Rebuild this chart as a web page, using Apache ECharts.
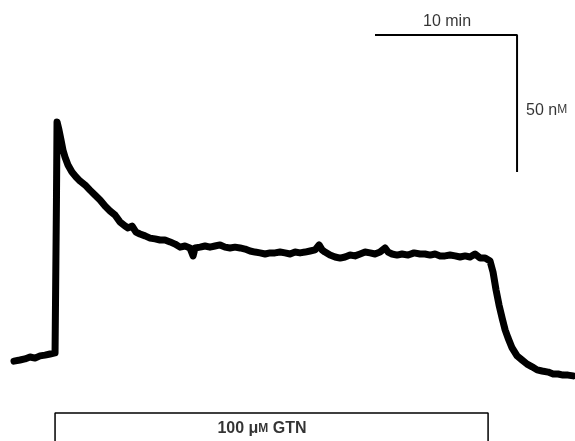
<!DOCTYPE html>
<html>
<head>
<meta charset="utf-8">
<script src="https://cdn.jsdelivr.net/npm/echarts@6/dist/echarts.min.js"></script>
<style>
  html, body { margin: 0; padding: 0; background: #fff; }
  #chart { width: 575px; height: 441px; }
</style>
</head>
<body>
<div id="chart"></div>
<script>
// NO trace: time in min, concentration in nM above baseline
const timeMin = [0, 0.42, 0.77, 1.13, 1.48, 1.83, 2.18, 2.54, 2.89, 2.99, 3.03, 3.17, 3.31, 3.45, 3.59, 3.80,
  4.08, 4.37, 4.65, 5.00, 5.35, 5.70, 6.06, 6.41, 6.76, 7.11, 7.46, 7.82, 8.03, 8.31, 8.59, 8.87, 9.23, 9.58,
  9.93, 10.28, 10.63, 10.99, 11.34, 11.69, 12.04, 12.39, 12.61, 12.75, 13.10, 13.45, 13.80, 14.15, 14.51, 14.86,
  15.21, 15.56, 15.92, 16.27, 16.62, 16.97, 17.32, 17.68, 18.03, 18.38, 18.73, 19.08, 19.44, 19.79, 20.14, 20.49,
  20.85, 21.20, 21.48, 21.69, 21.90, 22.25, 22.61, 22.96, 23.31, 23.66, 24.01, 24.37, 24.72, 25.07, 25.42, 25.77,
  26.13, 26.34, 26.62, 26.97, 27.32, 27.75, 28.17, 28.59, 28.94, 29.30, 29.65, 30.00, 30.35, 30.70, 31.06, 31.41,
  31.76, 32.11, 32.46, 32.82, 33.17, 33.52, 33.73, 33.94, 34.15, 34.37, 34.58, 34.79, 35.07, 35.42, 35.77, 36.13,
  36.48, 36.83, 37.18, 37.61, 37.96, 38.31, 38.66, 39.01, 39.37]
const noConc = [-1.5, -1.1, -0.7, 0, -0.4, 0.4, 0.7, 1.1, 1.5, 57.3, 85.8, 82.8, 79.2, 75.5, 73.0, 70.1,
  67.5, 65.7, 64.2, 62.8, 60.9, 59.1, 57.3, 55.1, 53.3, 51.8, 49.3, 47.8, 47.1, 47.8, 45.6, 44.9, 44.2, 43.4,
  43.1, 42.7, 42.7, 42.0, 41.2, 40.1, 40.5, 39.8, 36.9, 39.8, 40.1, 40.5, 40.1, 40.5, 40.9, 40.1,
  39.8, 40.1, 39.8, 39.4, 38.7, 38.3, 38.0, 37.6, 38.0, 38.0, 38.3, 38.0, 37.6, 38.3, 38.0, 38.3,
  38.7, 39.1, 40.9, 39.1, 38.3, 37.2, 36.5, 36.1, 36.5, 37.2, 36.9, 37.6, 38.3, 38.0, 37.6, 38.3,
  39.8, 38.3, 37.6, 37.2, 37.6, 37.2, 38.0, 37.6, 37.6, 37.2, 37.6, 36.9, 36.9, 37.2, 36.9, 36.5,
  36.9, 36.5, 37.6, 36.1, 36.1, 35.0, 31.0, 24.5, 19.0, 14.2, 9.9, 6.9, 3.3, 0.4, -1.1, -2.6,
  -3.6, -4.7, -5.1, -5.5, -6.2, -6.2, -6.6, -6.6, -6.9]

// scale bar: 10 min x 50 nM
const scaleTime = [25.42, 35.42, 35.42]
const scaleConc = [117.5, 117.5, 67.5]

// GTN application bar
const gtnTime = [2.89, 2.89, 33.38, 33.38]
const gtnConc = [-32, -20.4, -20.4, -32]

const FONT = 'Liberation Sans, Arial, sans-serif'

const chart = echarts.init(document.getElementById('chart'))

const zip = (xs, ys) => xs.map((x, i) => [x, ys[i]])

chart.setOption({
  backgroundColor: '#fff',
  animation: false,
  grid: { left: 14, right: 0, top: 0.8, bottom: 1.8 },
  xAxis: { type: 'value', min: 0, max: 39.5, show: false },
  yAxis: { type: 'value', min: -30, max: 130, show: false },
  series: [
    {
      name: 'NO',
      type: 'line',
      data: zip(timeMin, noConc),
      showSymbol: false,
      clip: false,
      lineStyle: { color: '#000', width: 7, join: 'round', cap: 'round' }
    },
    {
      name: 'scale',
      type: 'line',
      data: zip(scaleTime, scaleConc),
      showSymbol: false,
      lineStyle: { color: '#000', width: 2 }
    },
    {
      name: 'gtn',
      type: 'line',
      data: zip(gtnTime, gtnConc),
      showSymbol: false,
      clip: false,
      lineStyle: { color: '#000', width: 1.5 }
    },
    {
      // text labels placed in data coordinates
      type: 'scatter',
      symbolSize: 0,
      clip: false,
      label: { show: true, color: '#000', fontFamily: FONT },
      data: [
        { value: [30.49, 122.3], label: { formatter: '10 min', fontSize: 16 } },
        { value: [35.42, 90.1], label: { position: 'right', distance: 9, formatter: '50 n{s|M}', fontSize: 16,
          rich: { s: { fontSize: 12, fontFamily: FONT } } } },
        { value: [17.46, -26.3], label: { formatter: '100 μ{s|M} GTN', fontSize: 16, fontWeight: 'bold',
          rich: { s: { fontSize: 12, fontWeight: 'bold', fontFamily: FONT } } } }
      ]
    }
  ]
})
</script>
</body>
</html>
